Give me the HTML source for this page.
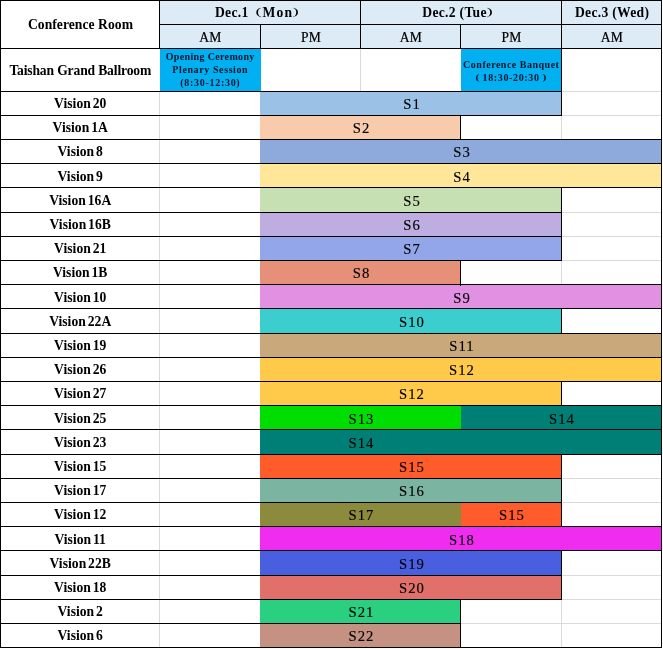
<!DOCTYPE html>
<html><head><meta charset="utf-8"><style>
html,body{margin:0;padding:0;background:#fff;}
#p{position:relative;width:663px;height:649px;overflow:hidden;background:#fff;will-change:transform;}
#p div{position:absolute;}
.b13,.r13,.r14,.sm,.sm2{font-family:"Liberation Serif",serif;text-align:center;white-space:nowrap;color:#000;}
.b13{font-weight:bold;font-size:13.6px;letter-spacing:0.04px;word-spacing:-1.6px;text-indent:1.4px;}
.r13{-webkit-text-stroke:0.2px #000;font-size:13.6px;color:#000;letter-spacing:0.3px;text-indent:2px;}
.r14{-webkit-text-stroke:0.15px #000;font-size:14.7px;letter-spacing:1.0px;text-indent:2px;}
.sm,.sm2{font-weight:bold;font-size:10px;color:#07142e;display:flex;align-items:center;justify-content:center;line-height:13px;letter-spacing:0.6px;}
.fw{display:inline-block;width:1em;text-align:right;}
.fc{display:inline-block;width:1em;text-align:left;}
.po{display:inline-block;margin-left:8px;margin-right:2px;font-weight:normal;font-size:11px;position:relative;top:-2.5px;transform:scaleX(1.7);}
.pc{display:inline-block;margin-left:0.5px;font-weight:normal;font-size:11px;position:relative;top:-2.5px;transform:scaleX(1.7);}
.hb{letter-spacing:0.05px;word-spacing:0;text-indent:0;}
.sp{display:inline-block;font-size:9px;position:relative;top:-0.5px;transform:scaleX(1.3);}
.dd{letter-spacing:0.3px;text-indent:0;word-spacing:0;}
</style></head><body><div id="p">
<div style="left:160px;top:1px;width:501px;height:47px;background:#DDEBF7;"></div>
<div style="left:160px;top:49px;width:101px;height:42px;background:#00B0F0;"></div>
<div style="left:461px;top:49px;width:101px;height:42px;background:#00B0F0;"></div>
<div style="left:260px;top:92px;width:302px;height:23px;background:#9BC2E6;"></div>
<div style="left:260px;top:116px;width:201px;height:23px;background:#F8CBAD;"></div>
<div style="left:260px;top:140px;width:402px;height:23px;background:#8EA9DB;"></div>
<div style="left:260px;top:164px;width:402px;height:23px;background:#FFE699;"></div>
<div style="left:260px;top:188px;width:302px;height:24px;background:#C6E0B4;"></div>
<div style="left:260px;top:213px;width:302px;height:23px;background:#BDADE0;"></div>
<div style="left:260px;top:237px;width:302px;height:23px;background:#94A6EA;"></div>
<div style="left:260px;top:261px;width:201px;height:23px;background:#E6907A;"></div>
<div style="left:260px;top:285px;width:402px;height:23px;background:#E291E2;"></div>
<div style="left:260px;top:309px;width:302px;height:24px;background:#3CCDCF;"></div>
<div style="left:260px;top:334px;width:402px;height:23px;background:#C9A87C;"></div>
<div style="left:260px;top:358px;width:402px;height:23px;background:#FFC94A;"></div>
<div style="left:260px;top:382px;width:302px;height:23px;background:#FFC94A;"></div>
<div style="left:260px;top:406px;width:201px;height:23px;background:#00DD00;"></div>
<div style="left:461px;top:406px;width:201px;height:23px;background:#007F77;"></div>
<div style="left:260px;top:430px;width:402px;height:24px;background:#007F77;"></div>
<div style="left:260px;top:455px;width:302px;height:23px;background:#FF5B2B;"></div>
<div style="left:260px;top:479px;width:302px;height:23px;background:#7CB4A2;"></div>
<div style="left:260px;top:503px;width:201px;height:23px;background:#8C8A3C;"></div>
<div style="left:461px;top:503px;width:101px;height:23px;background:#FF5B2B;"></div>
<div style="left:260px;top:527px;width:402px;height:23px;background:#F02CF0;"></div>
<div style="left:260px;top:551px;width:302px;height:24px;background:#4A5FDF;"></div>
<div style="left:260px;top:576px;width:302px;height:23px;background:#E2706A;"></div>
<div style="left:260px;top:600px;width:201px;height:23px;background:#2AD080;"></div>
<div style="left:260px;top:624px;width:201px;height:23px;background:#C49182;"></div>
<div style="left:159px;top:91px;width:1px;height:24px;background:#DADADA;"></div>
<div style="left:159px;top:115px;width:1px;height:24px;background:#DADADA;"></div>
<div style="left:561px;top:115px;width:1px;height:24px;background:#DADADA;"></div>
<div style="left:159px;top:139px;width:1px;height:24px;background:#DADADA;"></div>
<div style="left:159px;top:163px;width:1px;height:24px;background:#DADADA;"></div>
<div style="left:159px;top:187px;width:1px;height:25px;background:#DADADA;"></div>
<div style="left:159px;top:212px;width:1px;height:24px;background:#DADADA;"></div>
<div style="left:159px;top:236px;width:1px;height:24px;background:#DADADA;"></div>
<div style="left:159px;top:260px;width:1px;height:24px;background:#DADADA;"></div>
<div style="left:561px;top:260px;width:1px;height:24px;background:#DADADA;"></div>
<div style="left:159px;top:284px;width:1px;height:24px;background:#DADADA;"></div>
<div style="left:159px;top:308px;width:1px;height:25px;background:#DADADA;"></div>
<div style="left:159px;top:333px;width:1px;height:24px;background:#DADADA;"></div>
<div style="left:159px;top:357px;width:1px;height:24px;background:#DADADA;"></div>
<div style="left:159px;top:381px;width:1px;height:24px;background:#DADADA;"></div>
<div style="left:159px;top:405px;width:1px;height:24px;background:#DADADA;"></div>
<div style="left:159px;top:429px;width:1px;height:25px;background:#DADADA;"></div>
<div style="left:159px;top:454px;width:1px;height:24px;background:#DADADA;"></div>
<div style="left:159px;top:478px;width:1px;height:24px;background:#DADADA;"></div>
<div style="left:159px;top:502px;width:1px;height:24px;background:#DADADA;"></div>
<div style="left:159px;top:526px;width:1px;height:24px;background:#DADADA;"></div>
<div style="left:159px;top:550px;width:1px;height:25px;background:#DADADA;"></div>
<div style="left:159px;top:575px;width:1px;height:24px;background:#DADADA;"></div>
<div style="left:159px;top:599px;width:1px;height:24px;background:#DADADA;"></div>
<div style="left:561px;top:599px;width:1px;height:24px;background:#DADADA;"></div>
<div style="left:159px;top:623px;width:1px;height:24px;background:#DADADA;"></div>
<div style="left:561px;top:623px;width:1px;height:24px;background:#DADADA;"></div>
<div style="left:360px;top:48px;width:1px;height:43px;background:#DADADA;"></div>
<div style="left:0px;top:91px;width:562px;height:1px;background:#000;"></div>
<div style="left:562px;top:91px;width:99px;height:1px;background:#DADADA;"></div>
<div style="left:0px;top:115px;width:562px;height:1px;background:#000;"></div>
<div style="left:562px;top:115px;width:99px;height:1px;background:#DADADA;"></div>
<div style="left:0px;top:139px;width:662px;height:1px;background:#000;"></div>
<div style="left:0px;top:163px;width:662px;height:1px;background:#000;"></div>
<div style="left:0px;top:187px;width:662px;height:1px;background:#000;"></div>
<div style="left:0px;top:212px;width:562px;height:1px;background:#000;"></div>
<div style="left:562px;top:212px;width:99px;height:1px;background:#DADADA;"></div>
<div style="left:0px;top:236px;width:562px;height:1px;background:#000;"></div>
<div style="left:562px;top:236px;width:99px;height:1px;background:#DADADA;"></div>
<div style="left:0px;top:260px;width:562px;height:1px;background:#000;"></div>
<div style="left:562px;top:260px;width:99px;height:1px;background:#DADADA;"></div>
<div style="left:0px;top:284px;width:662px;height:1px;background:#000;"></div>
<div style="left:0px;top:308px;width:662px;height:1px;background:#000;"></div>
<div style="left:0px;top:333px;width:662px;height:1px;background:#000;"></div>
<div style="left:0px;top:357px;width:662px;height:1px;background:#000;"></div>
<div style="left:0px;top:381px;width:662px;height:1px;background:#000;"></div>
<div style="left:0px;top:405px;width:662px;height:1px;background:#000;"></div>
<div style="left:0px;top:429px;width:662px;height:1px;background:#000;"></div>
<div style="left:0px;top:454px;width:662px;height:1px;background:#000;"></div>
<div style="left:0px;top:478px;width:562px;height:1px;background:#000;"></div>
<div style="left:562px;top:478px;width:99px;height:1px;background:#DADADA;"></div>
<div style="left:0px;top:502px;width:562px;height:1px;background:#000;"></div>
<div style="left:562px;top:502px;width:99px;height:1px;background:#DADADA;"></div>
<div style="left:0px;top:526px;width:662px;height:1px;background:#000;"></div>
<div style="left:0px;top:550px;width:662px;height:1px;background:#000;"></div>
<div style="left:0px;top:575px;width:562px;height:1px;background:#000;"></div>
<div style="left:562px;top:575px;width:99px;height:1px;background:#DADADA;"></div>
<div style="left:0px;top:599px;width:562px;height:1px;background:#000;"></div>
<div style="left:562px;top:599px;width:99px;height:1px;background:#DADADA;"></div>
<div style="left:0px;top:623px;width:461px;height:1px;background:#000;"></div>
<div style="left:461px;top:623px;width:200px;height:1px;background:#DADADA;"></div>
<div style="left:0px;top:647px;width:662px;height:1px;background:#000;"></div>
<div style="left:561px;top:91px;width:1px;height:25px;background:#000;"></div>
<div style="left:460px;top:115px;width:1px;height:25px;background:#000;"></div>
<div style="left:661px;top:139px;width:1px;height:25px;background:#000;"></div>
<div style="left:661px;top:163px;width:1px;height:25px;background:#000;"></div>
<div style="left:561px;top:187px;width:1px;height:26px;background:#000;"></div>
<div style="left:561px;top:212px;width:1px;height:25px;background:#000;"></div>
<div style="left:561px;top:236px;width:1px;height:25px;background:#000;"></div>
<div style="left:460px;top:260px;width:1px;height:25px;background:#000;"></div>
<div style="left:661px;top:284px;width:1px;height:25px;background:#000;"></div>
<div style="left:561px;top:308px;width:1px;height:26px;background:#000;"></div>
<div style="left:661px;top:333px;width:1px;height:25px;background:#000;"></div>
<div style="left:661px;top:357px;width:1px;height:25px;background:#000;"></div>
<div style="left:561px;top:381px;width:1px;height:25px;background:#000;"></div>
<div style="left:661px;top:405px;width:1px;height:25px;background:#000;"></div>
<div style="left:661px;top:429px;width:1px;height:26px;background:#000;"></div>
<div style="left:561px;top:454px;width:1px;height:25px;background:#000;"></div>
<div style="left:561px;top:478px;width:1px;height:25px;background:#000;"></div>
<div style="left:561px;top:502px;width:1px;height:25px;background:#000;"></div>
<div style="left:661px;top:526px;width:1px;height:25px;background:#000;"></div>
<div style="left:561px;top:550px;width:1px;height:26px;background:#000;"></div>
<div style="left:561px;top:575px;width:1px;height:25px;background:#000;"></div>
<div style="left:460px;top:599px;width:1px;height:25px;background:#000;"></div>
<div style="left:460px;top:623px;width:1px;height:25px;background:#000;"></div>
<div style="left:460px;top:285px;width:1px;height:1px;background:#000;"></div>
<div style="left:0px;top:0px;width:1px;height:648px;background:#000;"></div>
<div style="left:661px;top:0px;width:1px;height:648px;background:#000;"></div>
<div style="left:0px;top:0px;width:662px;height:1px;background:#000;"></div>
<div style="left:159px;top:0px;width:1px;height:49px;background:#000;"></div>
<div style="left:159px;top:24px;width:502px;height:1px;background:#000;"></div>
<div style="left:0px;top:48px;width:662px;height:1px;background:#000;"></div>
<div style="left:360px;top:0px;width:1px;height:49px;background:#000;"></div>
<div style="left:561px;top:0px;width:1px;height:49px;background:#000;"></div>
<div style="left:260px;top:24px;width:1px;height:25px;background:#000;"></div>
<div style="left:460px;top:24px;width:1px;height:25px;background:#000;"></div>
<div style="left:561px;top:48px;width:1px;height:43px;background:#000;"></div>
<div class="b13 hb" style="left:0px;top:1px;width:159px;height:48px;line-height:48px;text-indent:2px;">Conference Room</div>
<div class="b13 dd" style="left:215px;top:1px;height:24px;line-height:24px;text-align:left;">Dec.1<span class="po">(</span><span style="letter-spacing:1.2px">Mon</span><span class="pc">)</span></div>
<div class="b13 dd" style="left:422.3px;top:1px;height:24px;line-height:24px;text-align:left;">Dec.2 (Tue<span class="pc" style="margin-left:1.5px">)</span></div>
<div class="b13 dd" style="left:575px;top:1px;height:24px;line-height:24px;text-align:left;">Dec.3 (Wed)</div>
<div class="r13" style="left:159px;top:26px;width:101px;height:24px;line-height:24px;">AM</div>
<div class="r13" style="left:260px;top:26px;width:100px;height:24px;line-height:24px;">PM</div>
<div class="r13" style="left:360px;top:26px;width:100px;height:24px;line-height:24px;">AM</div>
<div class="r13" style="left:460px;top:26px;width:101px;height:24px;line-height:24px;">PM</div>
<div class="r13" style="left:561px;top:26px;width:100px;height:24px;line-height:24px;">AM</div>
<div class="b13 hb" style="left:0px;top:49px;width:159px;height:43px;line-height:43px;letter-spacing:-0.15px;text-indent:1.5px;">Taishan Grand Ballroom</div>
<div class="sm" style="left:159px;top:48px;width:102px;height:43px;"><span><span style="letter-spacing:0.35px;margin-left:0.35px">Opening Ceremony</span><br><span style="letter-spacing:0.6px;margin-left:0.6px">Plenary Session</span><br><span style="letter-spacing:0.7px;margin-left:0.7px">(8:30-12:30)</span></span></div>
<div class="sm2" style="left:460px;top:48px;width:102px;height:43px;"><span style="line-height:12px;display:inline-block;position:relative;top:1.3px"><span style="letter-spacing:0.5px;margin-left:0.5px">Conference Banquet</span><br><span style="position:relative;top:1px;letter-spacing:0.65px;margin-left:0.65px"><span class="sp">(</span><span style="margin-left:3px">18:30-20:30</span><span class="sp" style="margin-left:3.5px">)</span></span></span></div>
<div class="b13" style="left:0px;top:92px;width:159px;height:24px;line-height:24px;">Vision 20</div>
<div class="r14" style="left:260px;top:92px;width:302px;height:24px;line-height:24px;">S1</div>
<div class="b13" style="left:0px;top:116px;width:159px;height:24px;line-height:24px;">Vision 1A</div>
<div class="r14" style="left:260px;top:116px;width:201px;height:24px;line-height:24px;">S2</div>
<div class="b13" style="left:0px;top:140px;width:159px;height:24px;line-height:24px;">Vision 8</div>
<div class="r14" style="left:260px;top:140px;width:402px;height:24px;line-height:24px;">S3</div>
<div class="b13" style="left:0px;top:165px;width:159px;height:24px;line-height:24px;">Vision 9</div>
<div class="r14" style="left:260px;top:165px;width:402px;height:24px;line-height:24px;">S4</div>
<div class="b13" style="left:0px;top:188px;width:159px;height:25px;line-height:25px;">Vision 16A</div>
<div class="r14" style="left:260px;top:189px;width:302px;height:25px;line-height:25px;">S5</div>
<div class="b13" style="left:0px;top:213px;width:159px;height:24px;line-height:24px;">Vision 16B</div>
<div class="r14" style="left:260px;top:213px;width:302px;height:24px;line-height:24px;">S6</div>
<div class="b13" style="left:0px;top:237px;width:159px;height:24px;line-height:24px;">Vision 21</div>
<div class="r14" style="left:260px;top:237px;width:302px;height:24px;line-height:24px;">S7</div>
<div class="b13" style="left:0px;top:261px;width:159px;height:24px;line-height:24px;">Vision 1B</div>
<div class="r14" style="left:260px;top:261px;width:201px;height:24px;line-height:24px;">S8</div>
<div class="b13" style="left:0px;top:286px;width:159px;height:24px;line-height:24px;">Vision 10</div>
<div class="r14" style="left:260px;top:286px;width:402px;height:24px;line-height:24px;">S9</div>
<div class="b13" style="left:0px;top:309px;width:159px;height:25px;line-height:25px;">Vision 22A</div>
<div class="r14" style="left:260px;top:310px;width:302px;height:25px;line-height:25px;">S10</div>
<div class="b13" style="left:0px;top:334px;width:159px;height:24px;line-height:24px;">Vision 19</div>
<div class="r14" style="left:260px;top:334px;width:402px;height:24px;line-height:24px;">S11</div>
<div class="b13" style="left:0px;top:358px;width:159px;height:24px;line-height:24px;">Vision 26</div>
<div class="r14" style="left:260px;top:358px;width:402px;height:24px;line-height:24px;">S12</div>
<div class="b13" style="left:0px;top:382px;width:159px;height:24px;line-height:24px;">Vision 27</div>
<div class="r14" style="left:260px;top:382px;width:302px;height:24px;line-height:24px;">S12</div>
<div class="b13" style="left:0px;top:407px;width:159px;height:24px;line-height:24px;">Vision 25</div>
<div class="r14" style="left:260px;top:407px;width:201px;height:24px;line-height:24px;">S13</div>
<div class="r14" style="left:460px;top:407px;width:202px;height:24px;line-height:24px;">S14</div>
<div class="b13" style="left:0px;top:430px;width:159px;height:25px;line-height:25px;">Vision 23</div>
<div class="r14" style="left:260px;top:431px;width:201px;height:25px;line-height:25px;">S14</div>
<div class="b13" style="left:0px;top:455px;width:159px;height:24px;line-height:24px;">Vision 15</div>
<div class="r14" style="left:260px;top:455px;width:302px;height:24px;line-height:24px;">S15</div>
<div class="b13" style="left:0px;top:479px;width:159px;height:24px;line-height:24px;">Vision 17</div>
<div class="r14" style="left:260px;top:479px;width:302px;height:24px;line-height:24px;">S16</div>
<div class="b13" style="left:0px;top:503px;width:159px;height:24px;line-height:24px;">Vision 12</div>
<div class="r14" style="left:260px;top:503px;width:201px;height:24px;line-height:24px;">S17</div>
<div class="r14" style="left:460px;top:503px;width:102px;height:24px;line-height:24px;">S15</div>
<div class="b13" style="left:0px;top:528px;width:159px;height:24px;line-height:24px;">Vision 11</div>
<div class="r14" style="left:260px;top:528px;width:402px;height:24px;line-height:24px;">S18</div>
<div class="b13" style="left:0px;top:551px;width:159px;height:25px;line-height:25px;">Vision 22B</div>
<div class="r14" style="left:260px;top:552px;width:302px;height:25px;line-height:25px;">S19</div>
<div class="b13" style="left:0px;top:576px;width:159px;height:24px;line-height:24px;">Vision 18</div>
<div class="r14" style="left:260px;top:576px;width:302px;height:24px;line-height:24px;">S20</div>
<div class="b13" style="left:0px;top:600px;width:159px;height:24px;line-height:24px;">Vision 2</div>
<div class="r14" style="left:260px;top:600px;width:201px;height:24px;line-height:24px;">S21</div>
<div class="b13" style="left:0px;top:624px;width:159px;height:24px;line-height:24px;">Vision 6</div>
<div class="r14" style="left:260px;top:624px;width:201px;height:24px;line-height:24px;">S22</div>
</div></body></html>
